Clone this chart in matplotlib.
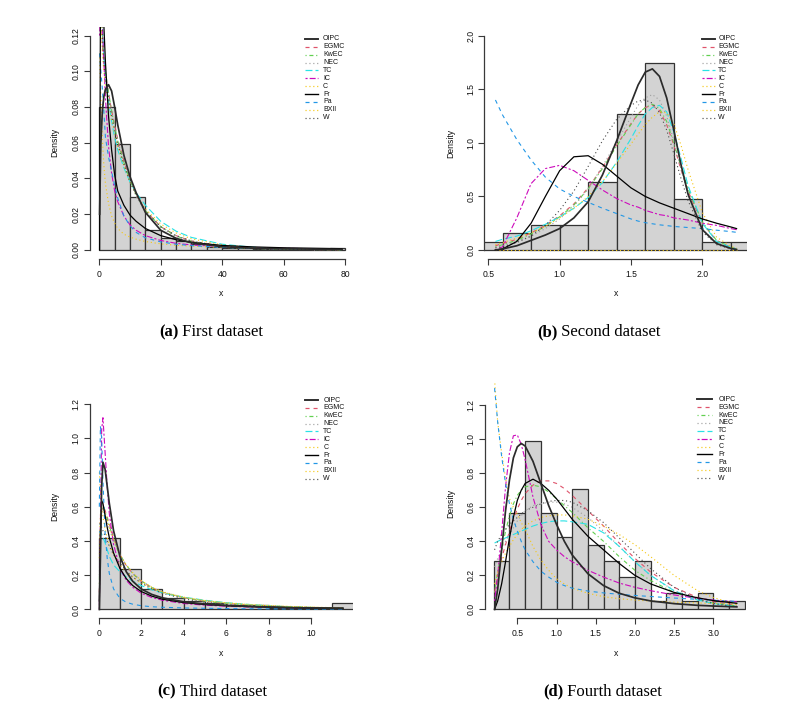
import matplotlib
matplotlib.use("Agg")
import matplotlib.pyplot as plt
from matplotlib.lines import Line2D
import numpy as np

plt.rcParams['font.family'] = ['Liberation Sans', 'DejaVu Sans']
plt.rcParams['lines.scale_dashes'] = False

W, H = 798, 707

# ---------------- data ----------------
models = ["OIPC", "EGMC", "KwEC", "NEC", "TC", "IC", "C", "Fr", "Pa", "BXII", "W"]

# Panel (a) first dataset
a_breaks = [0, 5, 10, 15, 20, 25, 30, 35, 40, 45, 50, 55, 60, 65, 70, 75, 80]
a_heights = [0.080, 0.0593, 0.0297, 0.0112, 0.0069, 0.005, 0.0032, 0.0019,
             0.0013, 0.0008, 0.0005, 0.0003, 0.0003, 0.0002, 0.0, 0.0013]
a_x = [0.1, 0.5, 1, 1.5, 2, 3, 4, 5, 6, 8, 10, 12, 15, 20, 25, 30, 40, 50, 60, 79]
a_OIPC = [0.02, 0.06, 0.078, 0.086, 0.09, 0.0925, 0.089, 0.08, 0.07, 0.053, 0.041, 0.032, 0.021, 0.011, 0.0065, 0.004, 0.0018, 0.001, 0.0006, 0.0003]
a_EGMC = [0.16, 0.135, 0.115, 0.105, 0.098, 0.088, 0.078, 0.07, 0.062, 0.05, 0.039, 0.031, 0.022, 0.013, 0.008, 0.005, 0.002, 0.0009, 0.0004, 0.0001]
a_KwEC = [0.2, 0.15, 0.12, 0.108, 0.1, 0.088, 0.078, 0.069, 0.061, 0.049, 0.039, 0.031, 0.022, 0.013, 0.0078, 0.0048, 0.0018, 0.0008, 0.0004, 0.0001]
a_NEC = [0.18, 0.14, 0.118, 0.106, 0.098, 0.087, 0.077, 0.068, 0.06, 0.048, 0.038, 0.03, 0.021, 0.0125, 0.0075, 0.0046, 0.0018, 0.0008, 0.0004, 0.0001]
a_TC = [0.2, 0.16, 0.125, 0.108, 0.097, 0.083, 0.072, 0.063, 0.056, 0.046, 0.038, 0.032, 0.025, 0.016, 0.0105, 0.007, 0.0032, 0.0015, 0.0007, 0.0002]
a_IC = [0.12, 0.14, 0.125, 0.105, 0.085, 0.058, 0.043, 0.033, 0.027, 0.019, 0.014, 0.011, 0.008, 0.0053, 0.0037, 0.0028, 0.0018, 0.0012, 0.0009, 0.0005]
a_C = [0.11, 0.085, 0.062, 0.047, 0.037, 0.026, 0.019, 0.015, 0.012, 0.0088, 0.0072, 0.006, 0.0047, 0.0034, 0.0026, 0.0021, 0.0014, 0.001, 0.0008, 0.0005]
a_Fr = [0.0, 0.2, 0.15, 0.125, 0.105, 0.075, 0.056, 0.042, 0.033, 0.025, 0.0195, 0.016, 0.012, 0.008, 0.0057, 0.0042, 0.0025, 0.0017, 0.0012, 0.0007]
a_Pa = [0.11, 0.1, 0.09, 0.077, 0.063, 0.052, 0.044, 0.036, 0.029, 0.019, 0.0135, 0.0098, 0.0068, 0.0045, 0.0032, 0.0024, 0.0014, 0.0009, 0.0006, 0.0003]
a_BXII = [0.16, 0.13, 0.11, 0.1, 0.092, 0.082, 0.073, 0.065, 0.058, 0.047, 0.038, 0.031, 0.023, 0.0145, 0.0095, 0.0062, 0.0028, 0.0013, 0.0006, 0.0002]
a_W = [0.2, 0.15, 0.12, 0.105, 0.096, 0.085, 0.075, 0.067, 0.059, 0.048, 0.038, 0.031, 0.022, 0.013, 0.008, 0.005, 0.002, 0.0009, 0.0004, 0.0001]

# Panel (b) second dataset
b_breaks = [0.4, 0.6, 0.8, 1.0, 1.2, 1.4, 1.6, 1.8, 2.0, 2.2, 2.4]
b_heights = [0.0794, 0.159, 0.238, 0.238, 0.635, 1.27, 1.746, 0.476, 0.0794, 0.0794]
b_x = [0.55, 0.6, 0.7, 0.8, 0.9, 1.0, 1.1, 1.2, 1.3, 1.4, 1.5, 1.55, 1.6, 1.65, 1.7, 1.75, 1.8, 1.85, 1.9, 2.0, 2.1, 2.2, 2.24]
b_OIPC = [0.0, 0.01, 0.04, 0.09, 0.14, 0.2, 0.3, 0.45, 0.7, 1.02, 1.37, 1.54, 1.66, 1.69, 1.62, 1.42, 1.12, 0.8, 0.52, 0.19, 0.06, 0.015, 0.005]
b_EGMC = [0.04, 0.06, 0.1, 0.16, 0.23, 0.32, 0.43, 0.58, 0.77, 0.98, 1.18, 1.27, 1.33, 1.35, 1.3, 1.17, 0.98, 0.75, 0.55, 0.25, 0.09, 0.025, 0.01]
b_KwEC = [0.03, 0.05, 0.09, 0.15, 0.22, 0.31, 0.42, 0.57, 0.76, 0.97, 1.17, 1.27, 1.33, 1.36, 1.32, 1.2, 1.0, 0.78, 0.57, 0.26, 0.09, 0.025, 0.01]
b_NEC = [0.02, 0.04, 0.08, 0.13, 0.2, 0.29, 0.41, 0.57, 0.78, 1.01, 1.24, 1.35, 1.42, 1.45, 1.4, 1.25, 1.02, 0.76, 0.52, 0.2, 0.06, 0.015, 0.005]
b_TC = [0.08, 0.1, 0.13, 0.18, 0.24, 0.31, 0.39, 0.49, 0.63, 0.82, 1.04, 1.16, 1.27, 1.33, 1.35, 1.29, 1.1, 0.86, 0.6, 0.25, 0.08, 0.025, 0.01]
b_IC = [0.0, 0.03, 0.3, 0.62, 0.76, 0.79, 0.74, 0.65, 0.56, 0.48, 0.42, 0.4, 0.37, 0.35, 0.33, 0.32, 0.3, 0.29, 0.28, 0.25, 0.23, 0.2, 0.19]
b_C = [0.004] * 23
b_Fr = [0.0, 0.01, 0.08, 0.25, 0.5, 0.74, 0.87, 0.88, 0.8, 0.69, 0.58, 0.54, 0.5, 0.47, 0.44, 0.415, 0.39, 0.365, 0.34, 0.29, 0.25, 0.215, 0.2]
b_Pa = [1.4, 1.26, 1.03, 0.84, 0.68, 0.57, 0.5, 0.445, 0.39, 0.34, 0.29, 0.27, 0.255, 0.245, 0.235, 0.228, 0.22, 0.215, 0.21, 0.2, 0.185, 0.172, 0.165]
b_BXII = [0.05, 0.07, 0.11, 0.16, 0.22, 0.3, 0.39, 0.5, 0.64, 0.81, 0.99, 1.08, 1.17, 1.24, 1.29, 1.28, 1.18, 0.98, 0.75, 0.35, 0.12, 0.035, 0.015]
b_W = [0.02, 0.03, 0.07, 0.13, 0.23, 0.37, 0.55, 0.78, 1.02, 1.22, 1.35, 1.39, 1.4, 1.37, 1.28, 1.12, 0.9, 0.67, 0.46, 0.17, 0.05, 0.01, 0.005]

# Panel (c) third dataset
c_breaks = [0, 1, 2, 3, 4, 5, 6, 8, 11, 12]
c_heights = [0.42, 0.236, 0.12, 0.066, 0.05, 0.04, 0.028, 0.01, 0.038]
c_x = [0.03, 0.08, 0.14, 0.2, 0.3, 0.4, 0.5, 0.7, 1.0, 1.3, 1.6, 2.0, 2.5, 3, 4, 5, 6, 7, 8, 9, 10, 11, 11.5]
c_OIPC = [0.0, 0.3, 0.72, 0.86, 0.82, 0.72, 0.62, 0.46, 0.31, 0.22, 0.165, 0.12, 0.088, 0.068, 0.045, 0.032, 0.024, 0.018, 0.014, 0.011, 0.009, 0.0075, 0.007]
c_EGMC = [0.1, 0.45, 0.58, 0.6, 0.58, 0.54, 0.5, 0.42, 0.32, 0.255, 0.21, 0.165, 0.127, 0.1, 0.068, 0.048, 0.035, 0.026, 0.02, 0.015, 0.012, 0.0095, 0.0085]
c_KwEC = [0.15, 0.5, 0.6, 0.6, 0.57, 0.53, 0.49, 0.41, 0.32, 0.26, 0.21, 0.166, 0.128, 0.1, 0.068, 0.048, 0.035, 0.026, 0.02, 0.015, 0.012, 0.0095, 0.0085]
c_NEC = [0.2, 0.52, 0.6, 0.58, 0.55, 0.51, 0.47, 0.4, 0.315, 0.258, 0.212, 0.168, 0.13, 0.102, 0.07, 0.05, 0.036, 0.027, 0.021, 0.016, 0.012, 0.0098, 0.0088]
c_TC = [0.45, 0.46, 0.44, 0.42, 0.39, 0.35, 0.31, 0.26, 0.22, 0.19, 0.165, 0.14, 0.115, 0.097, 0.072, 0.054, 0.04, 0.03, 0.022, 0.016, 0.012, 0.009, 0.008]
c_IC = [0.0, 0.5, 1.05, 1.12, 0.92, 0.72, 0.56, 0.38, 0.24, 0.17, 0.13, 0.095, 0.07, 0.054, 0.035, 0.025, 0.019, 0.015, 0.012, 0.01, 0.0085, 0.0073, 0.0068]
c_C = [0.8, 0.7, 0.6, 0.54, 0.47, 0.42, 0.38, 0.32, 0.26, 0.22, 0.19, 0.155, 0.123, 0.1, 0.07, 0.052, 0.039, 0.03, 0.023, 0.018, 0.014, 0.011, 0.01]
c_Fr = [0.05, 0.45, 0.635, 0.62, 0.55, 0.48, 0.42, 0.33, 0.24, 0.18, 0.14, 0.105, 0.078, 0.06, 0.04, 0.029, 0.022, 0.017, 0.014, 0.011, 0.009, 0.0078, 0.0072]
c_Pa = [0.6, 1.07, 1.0, 0.75, 0.45, 0.3, 0.21, 0.12, 0.065, 0.042, 0.031, 0.022, 0.016, 0.013, 0.009, 0.007, 0.0055, 0.0045, 0.0038, 0.0033, 0.003, 0.0027, 0.0025]
c_BXII = [0.3, 0.55, 0.6, 0.59, 0.56, 0.52, 0.48, 0.41, 0.32, 0.26, 0.215, 0.17, 0.13, 0.104, 0.072, 0.052, 0.038, 0.029, 0.022, 0.017, 0.013, 0.01, 0.009]
c_W = [0.5, 0.5, 0.48, 0.46, 0.43, 0.4, 0.37, 0.32, 0.27, 0.225, 0.19, 0.155, 0.12, 0.095, 0.062, 0.042, 0.029, 0.02, 0.014, 0.01, 0.007, 0.005, 0.004]

# Panel (d) fourth dataset
d_breaks = [0.2, 0.4, 0.6, 0.8, 1.0, 1.2, 1.4, 1.6, 1.8, 2.0, 2.2, 2.4, 2.6, 2.8, 3.0, 3.2, 3.4]
d_heights = [0.283, 0.566, 0.99, 0.566, 0.425, 0.708, 0.378, 0.283, 0.189, 0.283,
             0.047, 0.094, 0.047, 0.094, 0.047, 0.047]
d_x = [0.21, 0.25, 0.3, 0.35, 0.4, 0.45, 0.5, 0.55, 0.6, 0.7, 0.8, 0.9, 1.0, 1.1, 1.2, 1.4, 1.6, 1.8, 2.0, 2.2, 2.5, 2.8, 3.0, 3.3]
d_OIPC = [0.0, 0.12, 0.35, 0.58, 0.76, 0.89, 0.955, 0.975, 0.96, 0.87, 0.74, 0.61, 0.5, 0.4, 0.32, 0.21, 0.14, 0.095, 0.068, 0.05, 0.034, 0.024, 0.02, 0.015]
d_EGMC = [0.1, 0.2, 0.3, 0.38, 0.46, 0.53, 0.59, 0.64, 0.68, 0.73, 0.755, 0.755, 0.74, 0.71, 0.67, 0.58, 0.49, 0.39, 0.3, 0.22, 0.13, 0.07, 0.045, 0.025]
d_KwEC = [0.1, 0.22, 0.35, 0.46, 0.55, 0.62, 0.67, 0.7, 0.72, 0.73, 0.72, 0.69, 0.65, 0.61, 0.57, 0.48, 0.4, 0.31, 0.23, 0.17, 0.1, 0.058, 0.038, 0.02]
d_NEC = [0.25, 0.3, 0.35, 0.4, 0.44, 0.48, 0.52, 0.55, 0.58, 0.61, 0.62, 0.63, 0.63, 0.62, 0.6, 0.54, 0.46, 0.37, 0.28, 0.2, 0.11, 0.055, 0.033, 0.015]
d_TC = [0.39, 0.4, 0.41, 0.42, 0.43, 0.44, 0.45, 0.46, 0.47, 0.49, 0.505, 0.515, 0.52, 0.52, 0.515, 0.5, 0.45, 0.37, 0.28, 0.2, 0.11, 0.055, 0.035, 0.018]
d_IC = [0.05, 0.2, 0.45, 0.72, 0.92, 1.02, 1.025, 0.97, 0.88, 0.66, 0.5, 0.4, 0.35, 0.31, 0.28, 0.23, 0.19, 0.155, 0.13, 0.11, 0.085, 0.065, 0.055, 0.045]
d_C = [1.35, 1.1, 0.92, 0.77, 0.65, 0.6, 0.56, 0.51, 0.47, 0.37, 0.29, 0.23, 0.18, 0.15, 0.125, 0.095, 0.075, 0.063, 0.055, 0.049, 0.043, 0.038, 0.035, 0.031]
d_Fr = [0.0, 0.05, 0.15, 0.28, 0.42, 0.54, 0.64, 0.7, 0.74, 0.765, 0.74, 0.7, 0.65, 0.59, 0.53, 0.43, 0.35, 0.27, 0.2, 0.15, 0.1, 0.068, 0.052, 0.036]
d_Pa = [1.3, 1.1, 0.9, 0.74, 0.62, 0.53, 0.46, 0.4, 0.35, 0.28, 0.225, 0.19, 0.16, 0.14, 0.125, 0.108, 0.097, 0.089, 0.082, 0.076, 0.067, 0.059, 0.054, 0.047]
d_BXII = [0.15, 0.22, 0.28, 0.33, 0.37, 0.41, 0.44, 0.47, 0.49, 0.52, 0.54, 0.55, 0.555, 0.555, 0.55, 0.53, 0.49, 0.44, 0.38, 0.31, 0.2, 0.11, 0.07, 0.03]
d_W = [0.35, 0.4, 0.44, 0.47, 0.5, 0.52, 0.54, 0.56, 0.58, 0.6, 0.62, 0.635, 0.64, 0.64, 0.63, 0.58, 0.51, 0.42, 0.33, 0.24, 0.13, 0.06, 0.035, 0.015]

a_xticks = [0, 20, 40, 60, 80]
a_yticks = [0.00, 0.02, 0.04, 0.06, 0.08, 0.10, 0.12]
a_yticklabels = ["0.00", "0.02", "0.04", "0.06", "0.08", "0.10", "0.12"]
b_xticks = [0.5, 1.0, 1.5, 2.0]
b_xticklabels = ["0.5", "1.0", "1.5", "2.0"]
b_yticks = [0.0, 0.5, 1.0, 1.5, 2.0]
b_yticklabels = ["0.0", "0.5", "1.0", "1.5", "2.0"]
c_xticks = [0, 2, 4, 6, 8, 10]
c_yticks = [0.0, 0.2, 0.4, 0.6, 0.8, 1.0, 1.2]
c_yticklabels = ["0.0", "0.2", "0.4", "0.6", "0.8", "1.0", "1.2"]
d_xticks = [0.5, 1.0, 1.5, 2.0, 2.5, 3.0]
d_xticklabels = ["0.5", "1.0", "1.5", "2.0", "2.5", "3.0"]
d_yticks = c_yticks
d_yticklabels = c_yticklabels

captions = [("(a)", " First dataset"), ("(b)", " Second dataset"),
            ("(c)", " Third dataset"), ("(d)", " Fourth dataset")]

# ---------------- styles ----------------
styles = {
    "OIPC": dict(color="#2b2b2b", lw=1.25, ls="-"),
    "EGMC": dict(color="#DF536B", lw=0.8, ls=(0, (2.9, 2.9))),
    "KwEC": dict(color="#61D04F", lw=0.8, ls=(0, (0.8, 2.0, 2.9, 2.0))),
    "NEC": dict(color="#9E9E9E", lw=0.8, ls=(0, (0.8, 2.0))),
    "TC": dict(color="#28E2E5", lw=0.8, ls=(0, (5.0, 2.2))),
    "IC": dict(color="#CD0BBC", lw=0.8, ls=(0, (1.5, 1.5, 4.3, 1.5))),
    "C": dict(color="#F5C710", lw=0.8, ls=(0, (0.8, 2.0))),
    "Fr": dict(color="#000000", lw=0.9, ls="-"),
    "Pa": dict(color="#2297E6", lw=0.8, ls=(0, (2.9, 2.9))),
    "BXII": dict(color="#F5C710", lw=0.8, ls=(0, (0.8, 2.0))),
    "W": dict(color="#4a4a4a", lw=0.8, ls=(0, (0.8, 2.0))),
}

fig = plt.figure(figsize=(W / 100, H / 100), dpi=100)
fig.patch.set_facecolor("white")

AXC = "#3a3a3a"
FS = 6.2

def px_axes(left, right, top, bottom):
    return fig.add_axes([left / W, 1 - bottom / H, (right - left) / W, (bottom - top) / H])

panels = [
    dict(box=(89.5, 352.5, 27.0, 258.5), xlim=(-3.19, 82.4), ylim=(-0.0048, 0.1248),
         breaks=a_breaks, heights=a_heights, x=a_x,
         curves=dict(OIPC=a_OIPC, EGMC=a_EGMC, KwEC=a_KwEC, NEC=a_NEC, TC=a_TC, IC=a_IC,
                     C=a_C, Fr=a_Fr, Pa=a_Pa, BXII=a_BXII, W=a_W),
         xticks=a_xticks, xticklabels=[str(v) for v in a_xticks],
         yticks=a_yticks, yticklabels=a_yticklabels,
         leg=(305, 318, 323, 39.0), xlab=(221, 293), ylab=(55, 142.5), cap=(211.3, 336.5)),
    dict(box=(484.3, 746.7, 27.1, 258.6), xlim=(0.472, 2.311), ylim=(-0.08, 2.08),
         breaks=b_breaks, heights=b_heights, x=b_x,
         curves=dict(OIPC=b_OIPC, EGMC=b_EGMC, KwEC=b_KwEC, NEC=b_NEC, TC=b_TC, IC=b_IC,
                     C=b_C, Fr=b_Fr, Pa=b_Pa, BXII=b_BXII, W=b_W),
         xticks=b_xticks, xticklabels=b_xticklabels,
         yticks=b_yticks, yticklabels=b_yticklabels,
         leg=(701.7, 715, 718.3, 39.0), xlab=(615.7, 293), ylab=(450.7, 143), cap=(599, 336.5)),
    dict(box=(89.5, 352.5, 395.8, 617.7), xlim=(-0.433, 11.95), ylim=(-0.048, 1.248),
         breaks=c_breaks, heights=c_heights, x=c_x,
         curves=dict(OIPC=c_OIPC, EGMC=c_EGMC, KwEC=c_KwEC, NEC=c_NEC, TC=c_TC, IC=c_IC,
                     C=c_C, Fr=c_Fr, Pa=c_Pa, BXII=c_BXII, W=c_W),
         xticks=c_xticks, xticklabels=[str(v) for v in c_xticks],
         yticks=c_yticks, yticklabels=c_yticklabels,
         leg=(305, 318.3, 323.3, 400.0), xlab=(221, 653), ylab=(55, 506.5), cap=(212.5, 695.5)),
    dict(box=(485.0, 746.4, 383.0, 617.6), xlim=(0.088, 3.422), ylim=(-0.048, 1.33),
         breaks=d_breaks, heights=d_heights, x=d_x,
         curves=dict(OIPC=d_OIPC, EGMC=d_EGMC, KwEC=d_KwEC, NEC=d_NEC, TC=d_TC, IC=d_IC,
                     C=d_C, Fr=d_Fr, Pa=d_Pa, BXII=d_BXII, W=d_W),
         xticks=d_xticks, xticklabels=d_xticklabels,
         yticks=d_yticks, yticklabels=d_yticklabels,
         leg=(697.3, 711.7, 718.3, 399.3), xlab=(615.7, 653), ylab=(450.7, 503.3), cap=(602.5, 695.5)),
]

draw_order = ["EGMC", "KwEC", "NEC", "TC", "IC", "C", "Pa", "BXII", "W", "Fr", "OIPC"]

renderer = fig.canvas.get_renderer()

for p in panels:
    l, r, t, b = p["box"]
    ax = px_axes(l, r, t, b)
    ax.set_xlim(*p["xlim"])
    ax.set_ylim(*p["ylim"])
    br = np.array(p["breaks"], dtype=float)
    ax.bar(br[:-1], p["heights"], width=np.diff(br), align="edge",
           color="#D3D3D3", edgecolor="#333333", linewidth=0.9, zorder=1)
    for m in draw_order:
        st = styles[m]
        ax.plot(p["x"], p["curves"][m], color=st["color"], lw=st["lw"], ls=st["ls"],
                zorder=3, solid_joinstyle="round")
    for s in ["top", "right"]:
        ax.spines[s].set_visible(False)
    for s in ["left", "bottom"]:
        ax.spines[s].set_color(AXC)
        ax.spines[s].set_linewidth(0.9)
    ax.spines["left"].set_bounds(p["yticks"][0], p["yticks"][-1])
    ax.spines["bottom"].set_bounds(p["xticks"][0], p["xticks"][-1])
    ax.set_xticks(p["xticks"])
    ax.set_xticklabels(p["xticklabels"])
    ax.set_yticks(p["yticks"])
    ax.set_yticklabels(p["yticklabels"], rotation=90, va="center")
    ax.tick_params(axis="x", length=4.2, width=0.8, color=AXC, pad=4.0, labelsize=FS, labelcolor="#111111")
    ax.tick_params(axis="y", length=4.2, width=0.8, color=AXC, pad=2.4, labelsize=FS, labelcolor="#111111")
    ax.set_facecolor("none")

    # axis titles
    fig.text(p["xlab"][0] / W, 1 - p["xlab"][1] / H, "x", ha="center", va="center", fontsize=FS, color="#111111")
    fig.text(p["ylab"][0] / W, 1 - p["ylab"][1] / H, "Density", ha="center", va="center",
             rotation=90, fontsize=FS, color="#111111")

    # legend (drawn manually to R-like layout)
    x0, x1, xt, y0 = p["leg"]
    step = 7.87
    for i, m in enumerate(models):
        y = y0 + i * step
        st = styles[m]
        fig.add_artist(Line2D([x0 / W, x1 / W], [1 - y / H, 1 - y / H], color=st["color"],
                              lw=st["lw"] * 1.1, ls=st["ls"], transform=fig.transFigure))
        fig.text(xt / W, 1 - y / H, m, ha="left", va="center", fontsize=5.0, color="#111111")

# captions
for p, (bold, rest) in zip(panels, captions):
    cx, cy = p["cap"]
    t1 = fig.text(0, 1 - cy / H, bold, fontsize=12, fontweight="bold", family="Liberation Serif",
                  ha="left", va="baseline")
    t2 = fig.text(0, 1 - cy / H, rest, fontsize=12, family="Liberation Serif", ha="left", va="baseline")
    w1 = t1.get_window_extent(renderer).width
    w2 = t2.get_window_extent(renderer).width
    left = cx - (w1 + w2) / 2
    t1.set_x(left / W)
    t2.set_x((left + w1) / W)

fig.savefig("out.png", dpi=100, facecolor="white")
